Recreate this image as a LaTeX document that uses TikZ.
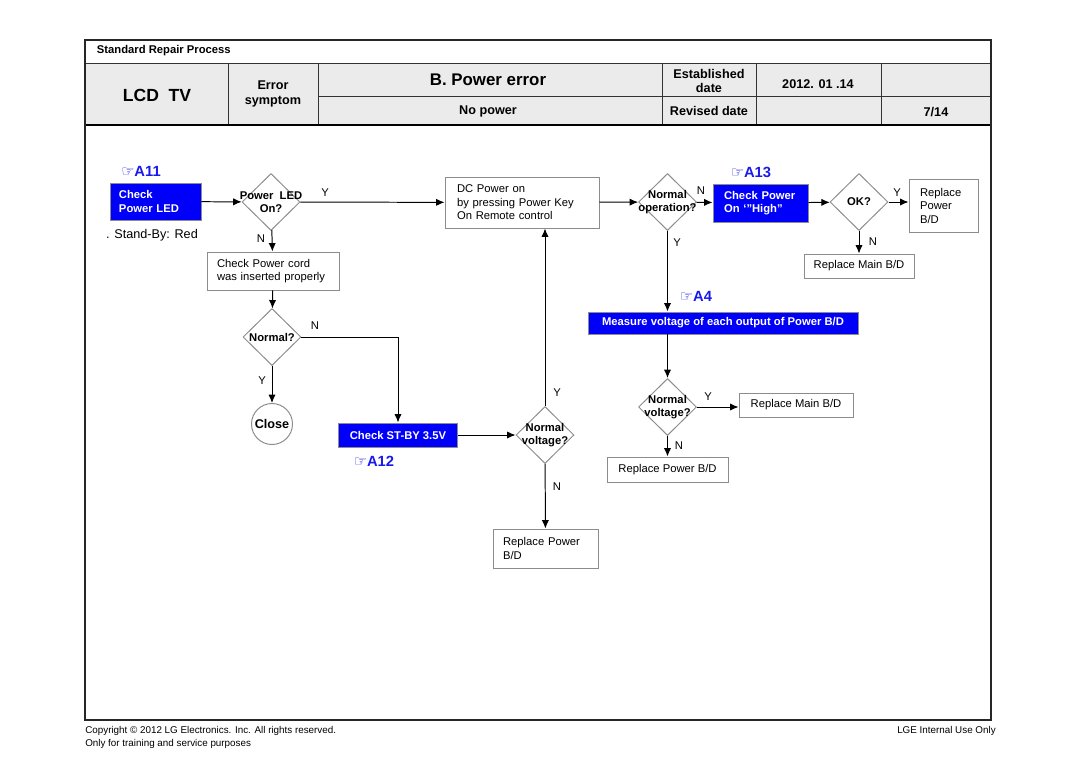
\documentclass[tikz,border=0pt]{standalone}
\usepackage{fontspec}
\setmainfont{Liberation Sans}
\newfontfamily\symfont{DejaVu Sans}
\usetikzlibrary{shapes,arrows.meta}
\tikzset{>={Latex[length=2.1mm,width=1.8mm]}}
\definecolor{boxgray}{RGB}{140,140,140}
\definecolor{lgblue}{RGB}{0,0,250}
\definecolor{tagblue}{RGB}{25,25,235}
\definecolor{headgray}{RGB}{235,235,235}
\tikzstyle{frame} = [draw=black!85, line width=1.1pt]
\tikzstyle{grid} = [draw=black!80, line width=0.6pt]
\tikzstyle{cell} = [font=\bfseries\fontsize{9}{10.5}\selectfont, align=center]
\tikzstyle{box} = [draw=boxgray, line width=0.7pt, rectangle, inner sep=0pt,
    font=\fontsize{8}{9.6}\selectfont]
\tikzstyle{note} = [box, align=left]
\tikzstyle{bluebox} = [box, fill=lgblue, text=white,
    font=\bfseries\fontsize{8}{9.6}\selectfont]
\tikzstyle{decision} = [draw=boxgray, line width=0.7pt, diamond,
    minimum width=14.5mm, minimum height=14.25mm, inner sep=0pt]
\tikzstyle{qtext} = [font=\bfseries\fontsize{8}{9.5}\selectfont, align=center, inner sep=0pt]
\tikzstyle{yn} = [font=\fontsize{8}{9}\selectfont, inner sep=0pt]
\tikzstyle{tag} = [text=tagblue, font=\bfseries\fontsize{10.5}{12}\selectfont, inner sep=0pt]
\tikzstyle{line} = [line width=0.7pt]

\begin{document}
\begin{tikzpicture}[x=0.25mm,y=-0.25mm]
    \useasboundingbox (0,0) rectangle (1080,763);
    \fill [headgray] (86,63) rectangle (990,125);
    \draw [grid] (85,63)--(991,63);
    \draw [grid] (228,63)--(228,125);
    \draw [grid] (318,63)--(318,125);
    \draw [grid] (662,63)--(662,125);
    \draw [grid] (756,63)--(756,125);
    \draw [grid] (881,63)--(881,125);
    \draw [grid] (318,96)--(991,96);
    \draw [line width=1.6pt] (85,125)--(991,125);
    \draw [frame] (85,40) rectangle (991,720);

    \node [anchor=west, font=\bfseries\fontsize{8}{9}\selectfont] (title) at (92,51) {Standard Repair Process};
    \node [font=\bfseries\fontsize{12.5}{14}\selectfont] (lcdtv) at (157,95) {LCD\ \ TV};
    \node [cell] (errsym) at (273,94) {Error\\symptom};
    \node [font=\bfseries\fontsize{12}{14}\selectfont] (errname) at (488,80) {B. Power error};
    \node [cell] (symname) at (488,111) {No power};
    \node [cell] (estab) at (709,81) {Established\\date};
    \node [cell] (estdate) at (818,84) {2012. 01 .14};
    \node [cell] (revised) at (709,111) {Revised date};
    \node [cell] (pageno) at (936,112) {7/14};

    \node [tag] (tagA11) at (141,171) {{\symfont ☞}A11};
    \node [bluebox, align=left, text width=18.25mm, inner xsep=2.25mm, minimum height=9.25mm] (chkled) at (155.5,201.5) {Check\\Power LED};
    \node [font=\fontsize{9}{10}\selectfont, inner sep=0pt] (standby) at (152,235) {. Stand-By: Red};
    \node [decision] (ledon) at (271,202) {};
    \node [qtext] (ledonq) at (ledon) {Power\ \ LED\\On?};
    \node [note, text width=32.5mm, inner xsep=3mm, minimum height=12.75mm] (dcon) at (522,202.5) {DC Power on\\by pressing Power Key\\On Remote control};
    \node [note, text width=28mm, inner xsep=2.5mm, minimum height=9.5mm] (cord) at (273,271) {Check Power cord\\was inserted properly};
    \node [decision] (normal1) at (272,337) {};
    \node [qtext] (normal1q) at (normal1) {Normal?};
    \node [circle, draw=boxgray, line width=0.7pt, minimum size=10.25mm, inner sep=0pt,
        font=\bfseries\fontsize{9}{10}\selectfont] (close) at (272,424) {Close};
    \node [bluebox, minimum width=29.75mm, minimum height=6mm] (stby) at (398,435) {Check ST-BY 3.5V};
    \node [tag] (tagA12) at (374,461) {{\symfont ☞}A12};
    \node [decision] (volt1) at (545,435) {};
    \node [qtext] (volt1q) at (volt1) {Normal\\voltage?};
    \node [note, text width=21.25mm, inner xsep=2.5mm, minimum height=9.75mm] (rppow1) at (545.5,548.5) {Replace Power\\B/D};
    \node [decision] (normop) at (667.5,202) {};
    \node [qtext] (normopq) at (normop) {Normal\\operation?};
    \node [tag] (tagA13) at (751,172) {{\symfont ☞}A13};
    \node [bluebox, align=left, text width=18.25mm, inner xsep=2.75mm, minimum height=9.5mm] (chkhigh) at (760.5,203) {Check Power\\On ‘”High”};
    \node [decision] (ok) at (859,202) {};
    \node [qtext] (okq) at (ok) {OK?};
    \node [note, text width=11.75mm, inner xsep=2.75mm, minimum height=13.25mm] (rppow2) at (943.5,205.5) {Replace\\Power\\B/D};
    \node [box, minimum width=27.5mm, minimum height=6mm] (rpmain1) at (859,266) {Replace Main B/D};
    \node [tag] (tagA4) at (696,296) {{\symfont ☞}A4};
    \node [bluebox, minimum width=67.5mm, minimum height=5.5mm] (measure) at (723,323) {Measure voltage of each output of Power B/D};
    \node [decision] (volt2) at (667.5,407) {};
    \node [qtext] (volt2q) at (volt2) {Normal\\voltage?};
    \node [box, minimum width=28.5mm, minimum height=6mm] (rpmain2) at (796,405) {Replace Main B/D};
    \node [box, minimum width=30.25mm, minimum height=6.25mm] (rppow3) at (667.5,469.5) {Replace Power B/D};

    \node [yn] (ledony) at (325,193) {Y};
    \node [yn] (ledonn) at (261,239) {N};
    \node [yn] (normal1n) at (315,326) {N};
    \node [yn] (normal1y) at (262,381) {Y};
    \node [yn] (volt1y) at (557,393) {Y};
    \node [yn] (volt1n) at (557,487) {N};
    \node [yn] (normopn) at (701,191) {N};
    \node [yn] (normopy) at (677,243) {Y};
    \node [yn] (oky) at (897,193) {Y};
    \node [yn] (okn) at (873,242) {N};
    \node [yn] (volt2y) at (708,397) {Y};
    \node [yn] (volt2n) at (679,446) {N};

    \draw [line,->] (chkled)--(ledon);
    \draw [line,->] (ledon)--(dcon);
    \draw [line,->] (ledon)--(cord);
    \draw [line,->] (cord)--(normal1);
    \draw [line,->] (normal1.east) -| (stby.north);
    \draw [line,->] (normal1)--(close);
    \draw [line,->] (stby)--(volt1);
    \draw [line,->] (volt1.north)--(volt1.north |- dcon.south);
    \draw [line,->] (volt1)--(rppow1);
    \draw [line,->] (dcon)--(normop);
    \draw [line,->] (normop)--(chkhigh);
    \draw [line,->] (chkhigh)--(ok);
    \draw [line,->] (ok)--(rppow2.west |- ok);
    \draw [line,->] (ok)--(rpmain1);
    \draw [line,->] (normop.south)--(normop.south |- measure.north);
    \draw [line,->] (volt2.north |- measure.south)--(volt2.north);
    \draw [line,->] (volt2)--(rpmain2.west |- volt2);
    \draw [line,->] (volt2)--(rppow3);

    \node [anchor=west, font=\fontsize{7}{8}\selectfont, inner sep=0pt] (copyr) at (85,731) {Copyright © 2012 LG Electronics. Inc. All rights reserved.};
    \node [anchor=west, font=\fontsize{7}{8}\selectfont, inner sep=0pt] (training) at (85,744) {Only for training and service purposes};
    \node [anchor=east, font=\fontsize{7}{8}\selectfont, inner sep=0pt] (internal) at (996,731) {LGE Internal Use Only};
\end{tikzpicture}
\end{document}
